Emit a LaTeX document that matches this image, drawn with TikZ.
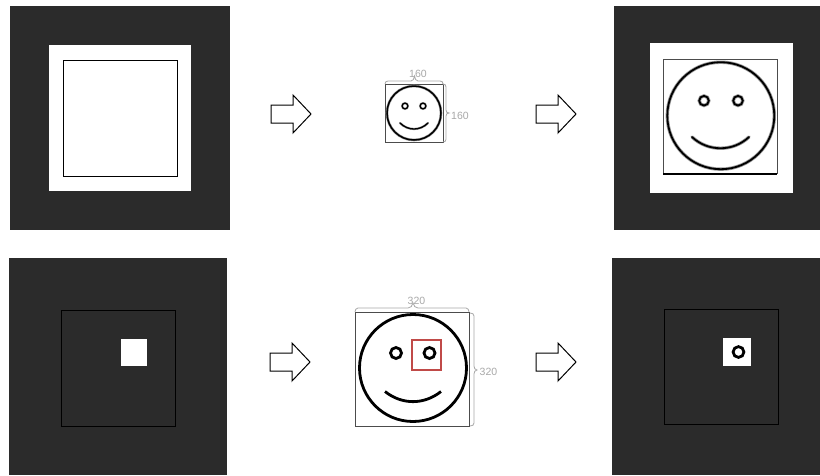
\documentclass[tikz,border=0pt]{standalone}
\usepackage{fontspec}
\setmainfont{Liberation Sans}
\definecolor{panel}{HTML}{2B2B2B}
\definecolor{dimgray}{HTML}{A8A8A8}
\definecolor{redbox}{HTML}{C04A48}
\tikzset{
  panelbox/.style={fill=panel,draw=none},
  whitebox/.style={fill=white,draw=none},
  framebox/.style={draw=black,line width=1pt,fill=none},
  blockarrow/.style={draw=black,line width=1pt,fill=white,line join=miter},
  dimbrace/.style={draw=dimgray,line width=0.8pt},
  dimlabel/.style={text=dimgray,font=\fontsize{10.5}{12}\selectfont,inner sep=0pt},
  thinframe/.style={draw=black!70,line width=0.8pt},
  inkface/.style={draw=black,line width=#1,fill=none,line cap=round},
  blurface/.style={draw=black!40,line width=#1,fill=none,line cap=round}
}
\newcommand{\blockarr}[2]{%
  \draw[blockarrow,shift={(#1,#2)}] (0,-9) -- (22,-9) -- (22,-19) -- (40,0) -- (22,19) -- (22,9) -- (0,9) -- cycle;}
\begin{document}
\begin{tikzpicture}[x=1pt,y=-1pt]
\useasboundingbox (0,0) rectangle (820,475);
\fill[white] (0,0) rectangle (820,475);
% top-left panel
\path[panelbox] (10,6) rectangle (230,230);
\path[whitebox] (49,45) rectangle (191,191);
\draw[framebox] (63,60.5) rectangle (177,176);
% bottom-left panel
\path[panelbox] (9,258) rectangle (227,475);
\draw[framebox] (61,310.5) rectangle (175,426);
\path[whitebox] (121,339) rectangle (147,366);
% top-right panel
\path[panelbox] (614,6) rectangle (820,230);
\path[whitebox] (650,43) rectangle (793,193);
\draw[thinframe] (663,59) -- (777,59) -- (777,174) (663,174) -- (663,59);
\draw[black,line width=1.4pt] (663,174) -- (777,174);
\foreach \w/\s in {3.4pt/blurface,1.8pt/inkface}{
  \path[\s=\w] (720.8,115.7) circle (53.5);
  \path[\s=\w] (704,100.7) circle (4.8);
  \path[\s=\w] (738,100.7) circle (4.8);
  \path[\s=\w] (692,137) .. controls (708,152) and (733,152) .. (749,137);
}
% bottom-right panel
\path[panelbox] (612,258) rectangle (820,475);
\draw[framebox] (664,309.5) rectangle (778,424);
\path[whitebox] (723,338) rectangle (751,366);
\draw[inkface=2.8pt] (738.5,352) circle (5.4);
% block arrows
\blockarr{271}{114}
\blockarr{536}{114}
\blockarr{270}{362}
\blockarr{536}{362}
% small face
\draw[thinframe] (385,84) rectangle (443,142);
\path[blurface=2.6pt] (414,113) circle (27);
\path[inkface=1.5pt] (414,113) circle (27);
\path[blurface=2.2pt] (405,106) circle (2.9);
\path[inkface=1.2pt] (405,106) circle (2.9);
\path[blurface=2.2pt] (423,106) circle (2.9);
\path[inkface=1.2pt] (423,106) circle (2.9);
\path[blurface=2.2pt] (400,123) .. controls (408,131) and (420,131) .. (428,123);
\path[inkface=1.3pt] (400,123) .. controls (408,131) and (420,131) .. (428,123);
\draw[dimbrace] (385,84) .. controls (385,82) and (386,81) .. (388,81) -- (411,81) .. controls (413,81) and (414,79) .. (414.5,76) .. controls (415,79) and (416,81) .. (418,81) -- (440,81) .. controls (442,81) and (443,82) .. (443,84);
\draw[dimbrace] (443,84) .. controls (445,84) and (446,85) .. (446,87) -- (446,110) .. controls (446,112) and (447,113) .. (449,113) .. controls (447,113) and (446,114) .. (446,116) -- (446,139) .. controls (446,141) and (445,142) .. (443,142);
\node[dimlabel] (w160) at (418,74) {160};
\node[dimlabel] (h160) at (460,116) {160};
% large face
\draw[thinframe] (355,312) rectangle (469,426);
\draw[inkface=2.8pt] (413,368) circle (53.5);
\draw[inkface=2.8pt] (396,353) circle (5.5);
\draw[inkface=2.8pt] (429.5,353) circle (5.5);
\draw[inkface=2.8pt,line cap=butt] (385,391.5) .. controls (402,405) and (424,405) .. (441,391.5);
\draw[redbox,line width=1.8pt] (412,340) rectangle (441,370);
\draw[dimbrace] (355,312) .. controls (355,310) and (356,308) .. (358,308) -- (408,308) .. controls (411,308) and (412,306) .. (413,303) .. controls (414,306) and (415,308) .. (418,308) -- (466,308) .. controls (468,308) and (469,310) .. (469,312);
\draw[dimbrace] (470,313) .. controls (472.5,313) and (474,314) .. (474,316) -- (474,366) .. controls (474,368) and (475,370) .. (477,370) .. controls (475,370) and (474,372) .. (474,374) -- (474,423) .. controls (474,425) and (472.5,426) .. (470,426);
\node[dimlabel] (w320) at (416.5,301) {320};
\node[dimlabel] (h320) at (488.5,372) {320};
\end{tikzpicture}
\end{document}
